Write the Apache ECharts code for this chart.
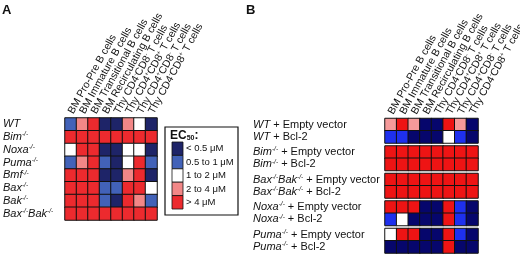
<!DOCTYPE html>
<html>
<head>
<meta charset="utf-8">
<script src="https://cdn.jsdelivr.net/npm/echarts@6/dist/echarts.min.js"></script>
<style>
  html, body { margin: 0; background: #fff; }
  #chart { width: 520px; height: 255px; }
</style>
</head>
<body>
<div id="chart"></div>
<script>
const columns = [
  'BM Pro-Pre B cells', 'BM Immature B cells', 'BM Transitional B cells', 'BM Recirculating B cells',
  'Thy CD4-CD8- T cells', 'Thy CD4+CD8+ T cells', 'Thy CD4+CD8- T cells', 'Thy CD4-CD8+ T cells'
];
const rowsA = ['WT', 'Bim-/-', 'Noxa-/-', 'Puma-/-', 'Bmf-/-', 'Bax-/-', 'Bak-/-', 'Bax-/-Bak-/-'];
// EC50 class per cell: 0 <0.5, 1 0.5-1, 2 1-2, 3 2-4, 4 >4 uM
const valuesA = [
  [1, 3, 4, 0, 0, 3, 2, 0],
  [4, 4, 4, 4, 4, 4, 4, 4],
  [2, 4, 4, 0, 0, 2, 2, 0],
  [1, 3, 4, 1, 0, 2, 4, 1],
  [4, 4, 4, 0, 0, 3, 4, 0],
  [4, 4, 4, 1, 1, 4, 4, 2],
  [4, 4, 4, 1, 0, 4, 3, 1],
  [4, 4, 4, 4, 4, 4, 4, 4]
];
const groupsB = [
  ['WT + Empty vector', 'WT + Bcl-2'],
  ['Bim-/- + Empty vector', 'Bim-/- + Bcl-2'],
  ['Bax-/-Bak-/- + Empty vector', 'Bax-/-Bak-/- + Bcl-2'],
  ['Noxa-/- + Empty vector', 'Noxa-/- + Bcl-2'],
  ['Puma-/- + Empty vector', 'Puma-/- + Bcl-2']
];
const valuesB = [
  [[3, 4, 3, 0, 0, 4, 3, 0], [1, 1, 0, 0, 0, 2, 1, 0]],
  [[4, 4, 4, 4, 4, 4, 4, 4], [4, 4, 4, 4, 4, 4, 4, 4]],
  [[4, 4, 4, 4, 4, 4, 4, 4], [4, 4, 4, 4, 4, 4, 4, 4]],
  [[4, 4, 4, 0, 0, 4, 1, 0], [1, 2, 0, 0, 0, 4, 1, 0]],
  [[2, 4, 4, 0, 0, 4, 1, 0], [0, 0, 0, 0, 0, 4, 0, 0]]
];
const legendLabels = ['< 0.5 \u03bcM', '0.5 to 1 \u03bcM', '1 to 2 \u03bcM', '2 to 4 \u03bcM', '> 4 \u03bcM'];
const colorsA = ['#1e2468', '#4262b8', '#ffffff', '#f28787', '#ec2a2e'];
const colorsB = ['#06066c', '#1e30ee', '#ffffff', '#f59a9a', '#ee1414'];

const font = 'Liberation Sans, Arial, sans-serif';
const rich = {
  i: { fontStyle: 'italic', fontSize: 11, fontFamily: font, color: '#111', lineHeight: 12 },
  s: { fontStyle: 'italic', fontSize: 6.5, fontFamily: font, color: '#111', verticalAlign: 'top', lineHeight: 6 },
  n: { fontSize: 11, fontFamily: font, color: '#111', lineHeight: 12 },
  u: { fontSize: 6, fontFamily: font, color: '#111', verticalAlign: 'top', lineHeight: 6 }
};

const rowLabel = s => {
  const [geno, rest] = s.split(' + ');
  let out = geno.split('-/-').map(p => (p ? '{i|' + p + '}' : '')).join('{s|-/-}');
  if (rest) out += '{n| + ' + rest + '}';
  return out;
};
const colLabel = s => s.replace(/CD([48])([+-])/g, 'CD$1{u|$2}');

const toCells = rows => {
  const out = [];
  rows.forEach((r, y) => r.forEach((v, x) => out.push([x, y, v])));
  return out;
};

const grids = [{ left: 65, top: 118, width: 92, height: 102, outerBoundsMode: 'none' }];
const bTops = [118.5, 146, 173.5, 201, 228.5];
bTops.forEach(t => grids.push({ left: 385, top: t, width: 93, height: 24.5, outerBoundsMode: 'none' }));

const xAxes = grids.map((g, i) => ({
  type: 'category', gridIndex: i, data: columns, position: 'top',
  axisLine: { show: false }, axisTick: { show: false },
  axisLabel: {
    show: i <= 1, interval: 0, rotate: -61, margin: 5,
    align: 'left', verticalAlign: 'middle',
    fontSize: 10.5, fontFamily: font, color: '#111',
    formatter: colLabel, rich: rich
  }
}));
const yAxes = grids.map((g, i) => ({
  type: 'category', gridIndex: i, inverse: true,
  data: i === 0 ? rowsA : groupsB[i - 1],
  axisLine: { show: false }, axisTick: { show: false },
  axisLabel: {
    interval: 0, align: 'left', margin: i === 0 ? 62 : 132,
    formatter: rowLabel, rich: rich
  }
}));

const series = [{
  type: 'heatmap', xAxisIndex: 0, yAxisIndex: 0, data: toCells(valuesA),
  itemStyle: { borderColor: '#111', borderWidth: 1 }
}];
valuesB.forEach((rows, k) => series.push({
  type: 'heatmap', xAxisIndex: k + 1, yAxisIndex: k + 1, data: toCells(rows),
  itemStyle: { borderColor: '#111', borderWidth: 1 }
}));

const swatchH = 13.4;
const legendItems = [];
legendLabels.forEach((lab, i) => {
  legendItems.push({
    type: 'rect', shape: { x: 172, y: 142 + i * swatchH, width: 11, height: swatchH },
    style: { fill: colorsA[i], stroke: '#111', lineWidth: 0.8 }
  });
  legendItems.push({
    type: 'text', x: 186, y: 142 + i * swatchH + swatchH / 2,
    style: { text: lab, fontSize: 9.5, fontFamily: font, fill: '#111', verticalAlign: 'middle' }
  });
});

const chart = echarts.init(document.getElementById('chart'));
chart.setOption({
  animation: false,
  grid: grids,
  xAxis: xAxes,
  yAxis: yAxes,
  visualMap: [
    { type: 'piecewise', show: false, seriesIndex: 0, dimension: 2,
      pieces: colorsA.map((c, v) => ({ value: v, color: c })) },
    { type: 'piecewise', show: false, seriesIndex: [1, 2, 3, 4, 5], dimension: 2,
      pieces: colorsB.map((c, v) => ({ value: v, color: c })) }
  ],
  series: series,
  graphic: [
    { type: 'text', x: 2, y: 4, style: { text: 'A', fontSize: 13, fontWeight: 'bold', fontFamily: font, fill: '#111' } },
    { type: 'text', x: 246, y: 4, style: { text: 'B', fontSize: 13, fontWeight: 'bold', fontFamily: font, fill: '#111' } },
    { type: 'rect', shape: { x: 165, y: 127, width: 73, height: 88 },
      style: { fill: 'none', stroke: '#111', lineWidth: 1.2 } },
    { type: 'text', x: 170, y: 129,
      style: {
        text: '{b|EC}{d|50}{b|:}', fill: '#111',
        rich: {
          b: { fontSize: 12, fontWeight: 'bold', fontFamily: font, lineHeight: 13 },
          d: { fontSize: 7, fontWeight: 'bold', fontFamily: font, verticalAlign: 'bottom', lineHeight: 8 }
        }
      } },
    ...legendItems
  ]
});
</script>
</body>
</html>
